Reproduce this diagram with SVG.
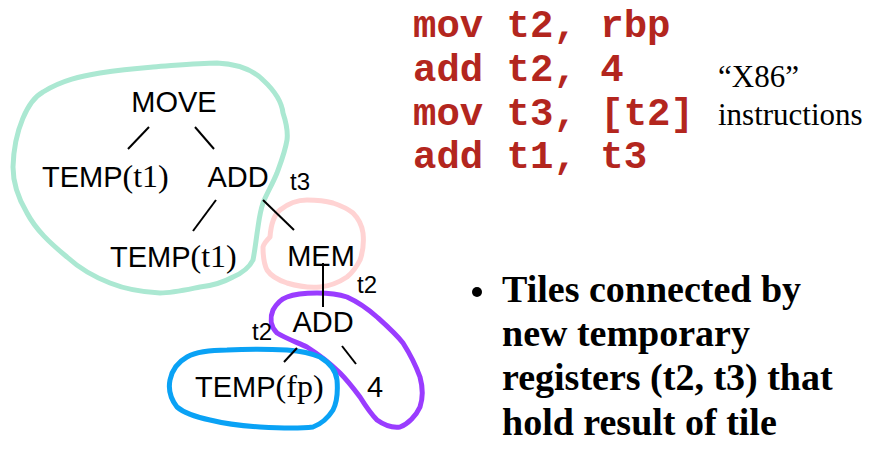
<svg xmlns="http://www.w3.org/2000/svg" width="875" height="457" viewBox="0 0 875 457">
<style>
.blob{fill:none;stroke-width:5;stroke-linejoin:round;stroke-linecap:round}
.n{font-family:"Liberation Sans","Open Sans",sans-serif;font-size:29px;fill:#000}
.s{font-family:"Liberation Serif","Times New Roman",serif;font-size:32px}
.lbl{font-family:"Liberation Sans","Open Sans",sans-serif;font-size:24px;fill:#000}
.code{font-family:"Liberation Mono","Courier New",monospace;font-weight:bold;font-size:39px;fill:#b3261e}
.tm{font-family:"Liberation Serif","Times New Roman",serif;font-size:31px;fill:#000}
.bul{font-family:"Liberation Serif","Times New Roman",serif;font-weight:bold;font-size:38px;fill:#000}
.e{stroke:#000;stroke-width:2;fill:none}
</style>
<rect width="875" height="457" fill="#fff"/>
<g id="tiles">
<path class="blob" stroke="#abe8d2" d="M13,167 C14,130 28,100 43,92 C62,80 82,76 100,73 C125,69 140,68 153,67 C180,65 200,63 217,63 C240,64 255,72 263,80 C276,92 282,104 283,113 C287,125 288,132 287,140 C285,152 281,162 277,173 C272,185 266,195 263,203 C260,212 259,220 258,227 C256,240 255,250 253,260 C248,270 240,274 233,277 C222,283 210,286 200,287 C185,290 172,293 160,293 C140,292 125,289 110,283 C92,276 78,267 67,257 C50,243 36,230 27,213 C18,198 13,182 13,167 Z"/>
<path class="blob" stroke="#ffd3d3" d="M270,237 C271,224 275,214 280,210 C290,202 298,200 307,200 C318,200 326,201 333,203 C342,206 348,209 353,213 C359,219 362,226 363,233 C364,243 363,252 360,260 C356,268 352,273 347,277 C338,283 330,286 320,287 C308,288 297,286 287,283 C278,280 271,276 267,270 C263,262 263,254 263,247 C264,243 267,240 270,237 Z"/>
<path class="blob" stroke="#9a3cff" d="M273,310 C277,303 281,299 287,297 C297,293 307,293 317,293 C328,293 338,294 347,297 C358,302 368,309 377,317 C387,326 396,334 403,343 C410,354 416,366 420,377 C423,388 423,398 420,407 C416,416 408,424 400,427 C392,428 384,425 377,420 C370,413 365,405 360,397 C354,389 347,380 340,373 C330,363 318,354 307,347 C296,342 285,338 277,333 C270,326 270,317 273,310 Z"/>
<path class="blob" stroke="#0aa2f5" d="M170,380 C172,370 178,362 187,357 C198,351 212,350 227,350 C247,349 268,349 287,350 C300,351 311,353 320,357 C330,363 336,371 337,380 C338,392 337,402 333,410 C328,418 321,424 313,427 C296,429 278,428 260,427 C243,426 226,424 210,420 C196,417 184,413 177,407 C170,398 168,390 170,380 Z"/>
</g>
<g id="connectors">
<line class="e" x1="149" y1="127" x2="128" y2="149"/>
<line class="e" x1="195" y1="127" x2="214" y2="149"/>
<line class="e" x1="216" y1="200" x2="193" y2="231"/>
<line class="e" x1="263" y1="200" x2="294" y2="230"/>
<line class="e" x1="323" y1="263" x2="323" y2="307"/>
<line class="e" x1="297" y1="348" x2="284" y2="362"/>
<line class="e" x1="342" y1="346" x2="356" y2="364"/>
</g>
<g id="move"><text class="n" x="174" y="112" text-anchor="middle">MOVE</text></g>
<g id="temp1"><text class="n" x="42" y="187">TEMP<tspan class="s">(t1)</tspan></text></g>
<g id="add1"><text class="n" x="238" y="187" text-anchor="middle">ADD</text></g>
<g id="temp2"><text class="n" x="110" y="267">TEMP<tspan class="s">(t1)</tspan></text></g>
<g id="mem"><text class="n" x="321" y="266" text-anchor="middle">MEM</text></g>
<g id="add2"><text class="n" x="323" y="332" text-anchor="middle">ADD</text></g>
<g id="tempfp"><text class="n" x="195" y="397">TEMP<tspan class="s">(fp)</tspan></text></g>
<g id="four"><text class="n" x="375" y="397" text-anchor="middle">4</text></g>
<g id="labels">
<text class="lbl" x="290" y="190">t3</text>
<text class="lbl" x="357" y="293">t2</text>
<text class="lbl" x="252" y="340">t2</text>
</g>
<g id="code">
<text class="code" x="413" y="37">mov t2, rbp</text>
<text class="code" x="413" y="81">add t2, 4</text>
<text class="code" x="413" y="125">mov t3, [t2]</text>
<text class="code" x="413" y="168">add t1, t3</text>
<text class="tm" x="718" y="87">“X86”</text>
<text class="tm" x="718" y="125">instructions</text>
</g>
<g id="bullet">
<circle cx="477" cy="292" r="5" fill="#000"/>
<text class="bul" x="502" y="302">Tiles connected by</text>
<text class="bul" x="502" y="346">new temporary</text>
<text class="bul" x="502" y="390">registers (t2, t3) that</text>
<text class="bul" x="502" y="435">hold result of tile</text>
</g>
</svg>
